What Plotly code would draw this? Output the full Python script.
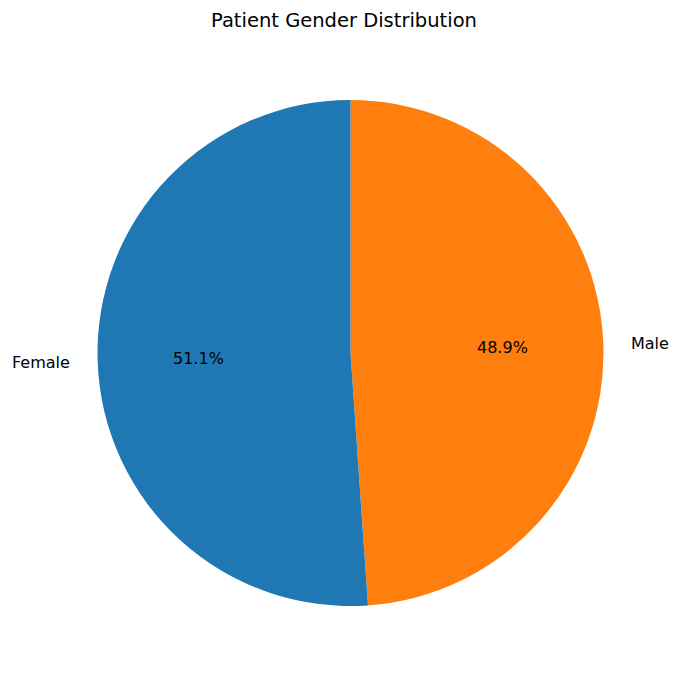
import math
import plotly.graph_objects as go

# Data
genders = ["Female", "Male"]
shares = [51.1, 48.9]
colors = ["#1f77b4", "#ff7f0e"]

# page body has an 8px margin, so the figure is drawn 8px smaller
W, H = 672, 674
margin = dict(l=89, r=76, t=92, b=76)
plot_w = W - margin["l"] - margin["r"]
plot_h = H - margin["t"] - margin["b"]

# matplotlib draws counter-clockwise from 12 o'clock; draw the reversed
# order clockwise from 12 o'clock to get the same layout
fig = go.Figure(go.Pie(
    labels=genders[::-1],
    values=shares[::-1],
    sort=False,
    direction="clockwise",
    rotation=0,
    marker=dict(colors=colors[::-1], line=dict(width=0)),
    textinfo="none",
    hoverinfo="label+percent",
    showlegend=False,
))

# Place labels like matplotlib: percent at 0.6r, name at 1.1r
annotations = []
total = sum(shares)
start = 90.0
r_x = 0.5 * min(plot_w, plot_h) / plot_w
r_y = 0.5 * min(plot_w, plot_h) / plot_h
for name, val in zip(genders, shares):
    sweep = val / total * 360
    mid = math.radians(start + sweep / 2)
    start += sweep
    cx, cy = math.cos(mid), math.sin(mid)
    annotations.append(dict(
        text=f"{val / total * 100:.1f}%",
        x=0.5 + 0.6 * cx * r_x, y=0.5 + 0.6 * cy * r_y,
        xref="paper", yref="paper", showarrow=False,
        xanchor="center", yanchor="middle",
        font=dict(size=16, color="black"),
    ))
    annotations.append(dict(
        text=name,
        x=0.5 + 1.1 * cx * r_x, y=0.5 + 1.1 * cy * r_y,
        xref="paper", yref="paper", showarrow=False,
        xanchor="right" if cx < 0 else "left", yanchor="middle",
        font=dict(size=16, color="black"),
    ))

fig.update_layout(
    width=W, height=H,
    margin=margin,
    font=dict(family="DejaVu Sans, sans-serif", color="black"),
    title=dict(
        text="Patient Gender Distribution",
        x=0.5, xanchor="center",
        y=1 - 12 / H, yanchor="middle",
        font=dict(size=19.5, color="black"),
    ),
    annotations=annotations,
    paper_bgcolor="white",
    plot_bgcolor="white",
)

fig.write_html("out.html")
